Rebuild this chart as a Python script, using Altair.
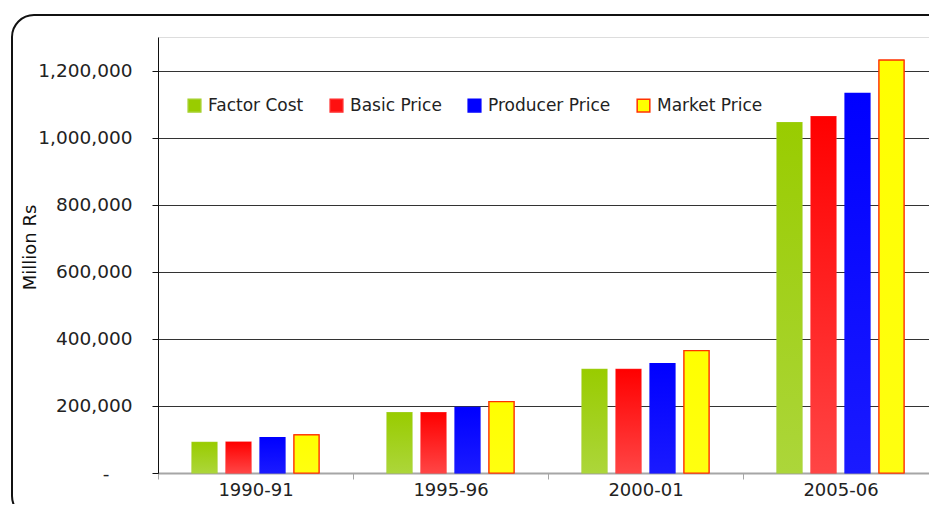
import altair as alt
import pandas as pd

years = ["1990-91", "1995-96", "2000-01", "2005-06"]
series = ["Factor Cost", "Basic Price", "Producer Price", "Market Price"]
factor_cost = [91600, 180000, 309000, 1045000]
basic_price = [92500, 180000, 309000, 1063000]
producer_price = [105400, 196000, 326000, 1132000]
market_price = [113400, 212800, 365000, 1231000]
y_ticks = [0, 200000, 400000, 600000, 800000, 1000000, 1200000]

fills = ["#99cc00", "#ff1010", "#0000ff", "#ffff00"]
strokes = ["#a4d02a", "#ff2a2a", "#0000ff", "#ff3300"]
grad_top = ["#99cc00", "#ff0000", "#0000ff", "#ffff00"]
grad_bot = ["#acd63a", "#ff4545", "#1a1aff", "#ffff10"]

rows = []
for s, vals in zip(series, [factor_cost, basic_price, producer_price, market_price]):
    for yr, v in zip(years, vals):
        rows.append({"year": yr, "series": s, "value": v})
df = pd.DataFrame(rows)

x_enc = alt.X("year:N", sort=years, title=None,
              scale=alt.Scale(paddingInner=0, paddingOuter=0),
              axis=alt.Axis(labelAngle=0, tickBand="extent", domainColor="#a6a6a6",
                            domainWidth=2, tickColor="#a6a6a6", tickSize=6,
                            labelFont="DejaVu Sans", labelFontSize=18, labelColor="#222",
                            labelPadding=2, grid=False))
xo_enc = alt.XOffset("series:N", sort=series,
                     scale=alt.Scale(domain=series, paddingInner=0.265, paddingOuter=1))
y_enc = alt.Y("value:Q", title="Million Rs",
              scale=alt.Scale(domain=[0, 1300000], nice=False),
              axis=alt.Axis(values=y_ticks, grid=True, gridColor="#333", gridWidth=1,
                            domainColor="#111", tickColor="#111", tickSize=6,
                            labelFont="DejaVu Sans", labelFontSize=18.5, labelColor="#222",
                            labelPadding={"condition": {"test": "datum.value == 0", "value": 43}, "value": 20},
                            labelExpr="datum.value == 0 ? '-' : format(datum.value, ',')",
                            titleFont="DejaVu Sans", titleFontSize=18,
                            titleFontWeight="normal", titleColor="#111",
                            titleAngle=270, titleBaseline="alphabetic",
                            titleX=-123, titleY=210))

legend = alt.Legend(title=None, orient="none", legendX=28, legendY=60,
                    direction="horizontal", symbolType="square", symbolSize=160,
                    symbolStrokeWidth=1.5, labelFont="DejaVu Sans", labelFontSize=17,
                    labelColor="#222", columnPadding=23, labelOffset=5, padding=0)

base = alt.Chart(df).mark_bar(strokeWidth=1.2).encode(
    x=x_enc, xOffset=xo_enc, y=y_enc,
    fill=alt.Fill("series:N", sort=series, scale=alt.Scale(domain=series, range=fills), legend=legend),
    stroke=alt.Stroke("series:N", sort=series, scale=alt.Scale(domain=series, range=strokes), legend=legend),
)

layers = []
border = alt.Chart(pd.DataFrame({"a": [0]})).mark_rect(
    fillOpacity=0, stroke="#111", strokeWidth=2, cornerRadius=22
).encode(x=alt.value(-146), x2=alt.value(800), y=alt.value(-22), y2=alt.value(481))
layers.append(border)
layers.append(base)
for i, s in enumerate(series):
    grad = alt.LinearGradient(gradient="linear", x1=0, y1=0, x2=0, y2=1,
                              stops=[alt.GradientStop(color=grad_top[i], offset=0),
                                     alt.GradientStop(color=grad_bot[i], offset=1)])
    kw = {}
    if s == "Market Price":
        kw = {"stroke": "#ff3300", "strokeWidth": 1.2}
    layers.append(
        alt.Chart(df).transform_filter(alt.datum.series == s)
        .mark_bar(color=grad, **kw)
        .encode(x=x_enc, xOffset=xo_enc, y=y_enc)
    )

chart = alt.layer(*layers).properties(
    width=780, height=436,
    autosize=alt.AutoSizeParams(type="none"),
    padding={"left": 150, "top": 29, "right": -9, "bottom": 31},
).configure_view(stroke="#999", strokeWidth=1).configure(background="white")

chart.save("out.html", embed_options={"renderer": "svg", "actions": False})
